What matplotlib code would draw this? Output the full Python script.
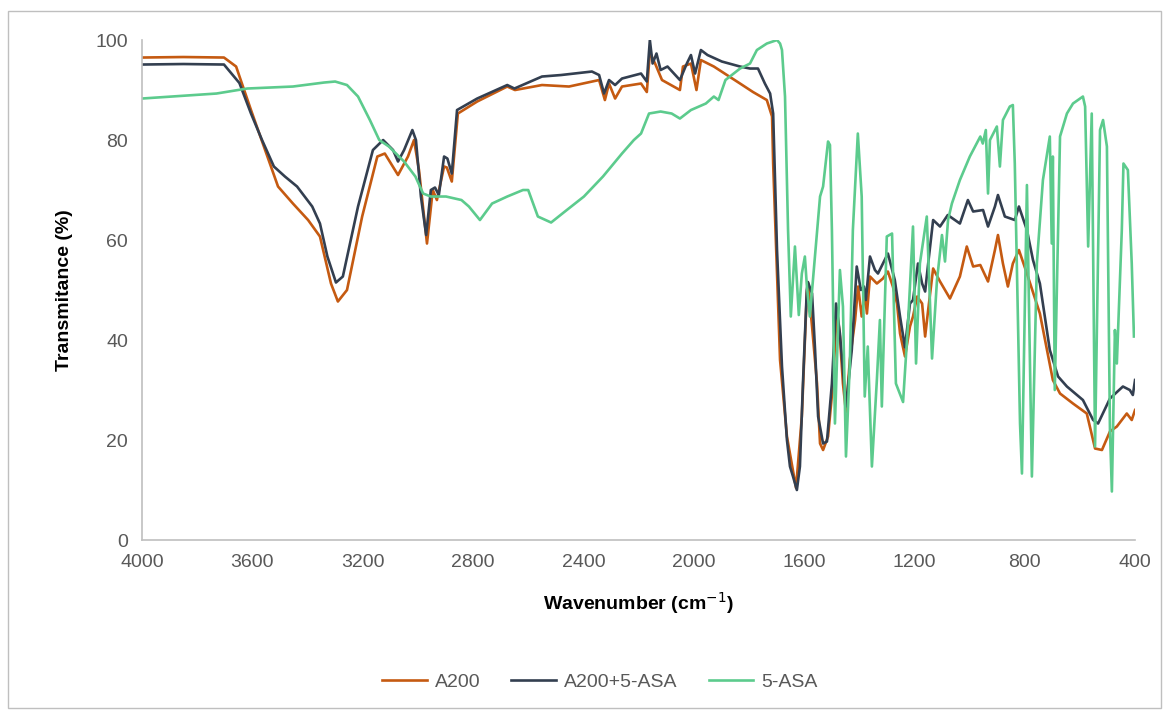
import matplotlib.pyplot as plt
from matplotlib.patches import Rectangle

# A200
a200_wn = [4000, 3850, 3703, 3659, 3605, 3550, 3507, 3453, 3398, 3355, 3315, 3290, 3257, 3202, 3147,
           3120, 3072, 3036, 3014, 2996, 2967, 2946, 2931, 2905, 2895, 2877, 2855, 2785, 2676, 2648,
           2550, 2452, 2343, 2322, 2307, 2285, 2260, 2191, 2170, 2159, 2140, 2115, 2050, 2039, 2010,
           1990, 1974, 1927, 1832, 1785, 1735, 1716, 1712, 1687, 1662, 1629, 1608, 1590, 1586, 1571,
           1553, 1542, 1531, 1513, 1495, 1481, 1470, 1459, 1448, 1434, 1415, 1404, 1391, 1380, 1372,
           1361, 1336, 1314, 1296, 1278, 1263, 1252, 1234, 1216, 1205, 1190, 1172, 1161, 1150, 1132,
           1107, 1071, 1035, 1010, 987, 961, 933, 908, 897, 879, 861, 843, 821, 792, 745, 698, 672,
           625, 575, 545, 520, 491, 466, 430, 412, 400]
a200_t = [96.5, 96.6, 96.5, 94.7, 86, 77.4, 70.7, 67.3, 64, 60.7, 51.3, 47.7, 50, 64.7, 76.7,
          77.3, 73, 76.7, 80, 74, 59.3, 70, 68, 74.7, 74.5, 71.7, 85.3, 87.7, 90.7, 90,
          91, 90.7, 92, 88, 91.3, 88.3, 90.7, 91.3, 89.6, 97.5, 95.3, 92, 90, 94.7, 95.3,
          90, 96, 94.7, 91.3, 89.6, 88, 84.7, 75.3, 36, 20.7, 10.4, 24.7, 49.3, 51.5, 42.7,
          31.3, 19.3, 18, 20.7, 31.3, 46.3, 40.7, 31.3, 25.6, 36, 44, 50.7, 44.7, 49.3, 45.3,
          52.7, 51.3, 52.3, 53.7, 50.7, 47.3, 41.3, 36.7, 42.7, 44.7, 48.7, 47.3, 40.7, 46, 54.3,
          51.7, 48.3, 52.7, 58.7, 54.7, 55, 51.7, 58, 61, 55.3, 50.7, 55.3, 58, 53.3, 45.3, 32, 29.3,
          27.3, 25.3, 18.3, 18, 21.7, 22.7, 25.3, 24, 26]

# A200+5-ASA
mix_wn = [4000, 3850, 3703, 3647, 3605, 3565, 3522, 3482, 3438, 3383, 3355, 3328, 3297, 3272, 3217,
          3163, 3126, 3090, 3072, 3050, 3020, 3007, 2989, 2970, 2953, 2938, 2924, 2905, 2893, 2877,
          2858, 2785, 2676, 2650, 2550, 2481, 2369, 2343, 2325, 2307, 2285, 2260, 2191, 2170, 2159,
          2149, 2135, 2120, 2095, 2050, 2025, 2010, 1995, 1974, 1950, 1898, 1832, 1796, 1767, 1742,
          1723, 1712, 1698, 1680, 1662, 1651, 1640, 1626, 1615, 1604, 1590, 1586, 1571, 1560, 1549,
          1531, 1517, 1499, 1484, 1470, 1448, 1427, 1409, 1394, 1383, 1376, 1361, 1343, 1332, 1296,
          1271, 1252, 1234, 1216, 1205, 1187, 1172, 1161, 1150, 1132, 1107, 1079, 1035, 1006, 987,
          951, 933, 908, 897, 872, 836, 821, 792, 770, 745, 709, 679, 647, 589, 552, 534, 491, 444,
          419, 408, 400]
mix_t = [95.1, 95.2, 95.1, 91.4, 85.3, 80, 74.7, 72.7, 70.7, 66.7, 63.3, 56.7, 51.5, 52.7, 66.7,
         78, 80, 78, 75.7, 78, 82, 80, 68.7, 61, 70, 70.5, 69, 76.7, 76.3, 73.3,
         86, 88.3, 91, 90.3, 92.7, 93, 93.7, 93, 89.3, 92, 91, 92.3, 93.3, 91.7, 100,
         95.3, 97.3, 94, 94.7, 92, 95.3, 97, 93.3, 98, 97, 95.7, 94.7, 94.3, 94.3, 91.3,
         89.3, 85.3, 58, 34.7, 20, 14.7, 12.7, 10, 14.7, 31.3, 50, 51.6, 49.3, 38, 24.7,
         19.3, 19.7, 31.3, 47.3, 41.3, 26.7, 38, 54.7, 50, 50.7, 48, 56.7, 54, 53.3, 57.3,
         52, 44.7, 38.5, 47.3, 48, 55.3, 51.3, 49.7, 55.3, 64, 62.7, 65, 63.3, 68, 65.7,
         66, 62.7, 66.7, 69, 64.7, 64, 66.7, 62, 56, 51.3, 38, 32.7, 30.7, 28, 24, 23.3, 28.3, 30.7,
         30, 29, 32]

# 5-ASA
asa_wn = [4000, 3730, 3619, 3453, 3340, 3300, 3257, 3217, 3174, 3140, 3105, 3050, 3009, 2981, 2953,
          2898, 2842, 2815, 2775, 2731, 2676, 2619, 2600, 2565, 2517, 2467, 2398, 2329, 2260, 2217,
          2191, 2162, 2120, 2080, 2050, 2010, 1956, 1927, 1910, 1885, 1832, 1796, 1771, 1735, 1698,
          1687, 1680, 1669, 1658, 1648, 1633, 1619, 1608, 1597, 1590, 1579, 1542, 1531, 1513, 1506,
          1499, 1488, 1470, 1459, 1448, 1434, 1423, 1405, 1391, 1380, 1369, 1354, 1336, 1325, 1318,
          1300, 1281, 1267, 1241, 1223, 1205, 1194, 1180, 1155, 1136, 1118, 1100, 1089, 1078, 1064,
          1035, 999, 961, 952, 941, 933, 926, 901, 890, 879, 854, 843, 836, 817, 810, 792, 774, 756,
          734, 709, 702, 698, 691, 672, 647, 625, 589, 581, 570, 557, 545, 527, 516, 502, 491, 484,
          473, 466, 448, 442, 426, 412, 404]
asa_t = [88.3, 89.3, 90.3, 90.7, 91.5, 91.7, 91, 88.7, 84, 80, 78.7, 75.7, 72.7, 69.3, 68.7,
         68.7, 68, 66.7, 64, 67.3, 68.7, 70, 70, 64.7, 63.5, 65.7, 68.7, 72.7, 77.3, 80,
         81.3, 85.3, 85.7, 85.3, 84.3, 86, 87.3, 88.7, 88, 92, 94.3, 95.3, 98, 99.3, 100,
         99.3, 98, 88.7, 62, 44.7, 58.7, 45, 53.3, 56.7, 51, 44.7, 68.7, 70.7, 79.7, 79,
         62, 23.3, 54, 46.7, 16.7, 35.3, 62, 81.3, 68.7, 28.7, 38.7, 14.7, 32, 44, 26.7,
         60.7, 61.3, 31.3, 27.6, 43.3, 62.7, 35.3, 55.3, 64.7, 36.3, 52, 61, 55.7, 64, 67.3,
         72, 76.7, 80.7, 79.3, 82, 69.3, 80, 82.7, 74.7, 84, 86.7, 87, 75.3, 23.3, 13.3, 71, 12.7, 55.3,
         72, 80.7, 59.3, 76.7, 30, 80.7, 85.3, 87.3, 88.7, 86.7, 58.7, 85.3, 18.7, 82, 84, 78.7, 22, 9.7,
         42, 35.3, 62, 75.3, 74, 55.3, 40.7]

x_ticks = [4000, 3600, 3200, 2800, 2400, 2000, 1600, 1200, 800, 400]
y_ticks = [0, 20, 40, 60, 80, 100]

plt.rcParams['font.family'] = ['Liberation Sans', 'DejaVu Sans']

fig = plt.figure(figsize=(11.71, 7.11), dpi=100)
ax = fig.add_axes([0.1213, 0.2405, 0.8480, 0.7032])

ax.plot(a200_wn, a200_t, color='#C55A11', lw=1.9, label='A200')
ax.plot(mix_wn, mix_t, color='#333F50', lw=1.9, label='A200+5-ASA')
ax.plot(asa_wn, asa_t, color='#5CCB8D', lw=1.9, label='5-ASA')

ax.set_xlim(4000, 400)
ax.set_ylim(0, 100)
ax.set_xticks(x_ticks)
ax.set_yticks(y_ticks)
ax.tick_params(length=0, labelsize=14, colors='#595959', pad=10)
for s in ['top', 'right']:
    ax.spines[s].set_visible(False)
for s in ['left', 'bottom']:
    ax.spines[s].set_color('#BFBFBF')
    ax.spines[s].set_linewidth(1.2)

ax.set_xlabel('Wavenumber (cm$^{-1}$)', fontsize=14, fontweight='bold', labelpad=14)
ax.set_ylabel('Transmitance (%)', fontsize=14, fontweight='bold', labelpad=16)

ax.legend(loc='center', bbox_to_anchor=(0.461, -0.285), ncol=3, frameon=False,
          fontsize=14, handlelength=2.3, columnspacing=1.6, handletextpad=0.4,
          labelcolor='#595959')

fig.patches.append(Rectangle((8 / 1171, 3 / 711), 1153 / 1171, 697 / 711,
                             transform=fig.transFigure, fill=False,
                             edgecolor='#BFBFBF', lw=1))

fig.savefig('out.png', dpi=100)
